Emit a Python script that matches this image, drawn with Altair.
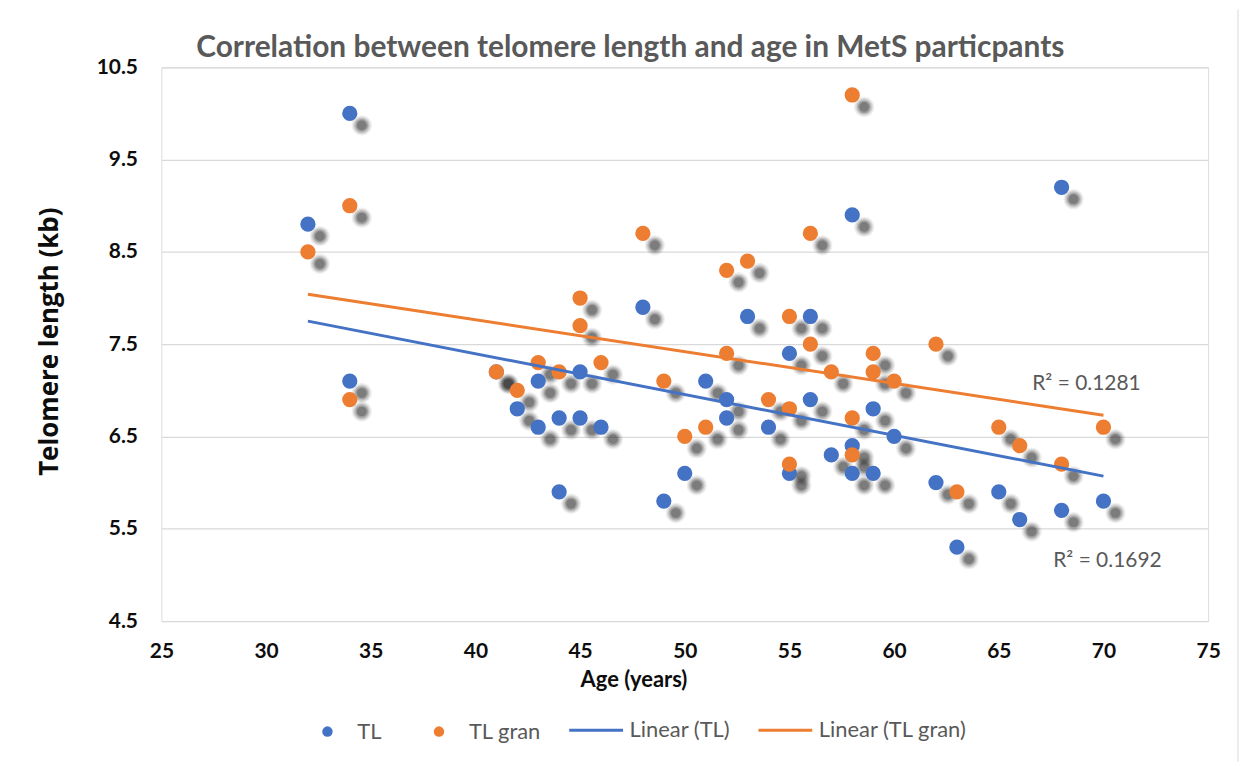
import altair as alt
import pandas as pd

# ---- data ----
tl_age = [32, 34, 34, 41, 42, 43, 43, 44, 44, 45, 45, 46, 48, 49, 50, 51, 52, 52, 53, 54,
          55, 55, 56, 56, 57, 58, 58, 58, 59, 59, 60, 62, 63, 65, 66, 68, 68, 70]
tl_len = [8.8, 10.0, 7.1, 7.2, 6.8, 7.1, 6.6, 6.7, 5.9, 7.2, 6.7, 6.6, 7.9, 5.8, 6.1, 7.1, 6.9, 6.7, 7.8, 6.6,
          7.4, 6.1, 7.8, 6.9, 6.3, 8.9, 6.4, 6.1, 6.8, 6.1, 6.5, 6.0, 5.3, 5.9, 5.6, 9.2, 5.7, 5.8]

gran_age = [32, 34, 34, 41, 42, 43, 44, 45, 45, 46, 48, 49, 50, 51, 52, 52, 53, 54,
            55, 55, 55, 56, 56, 57, 58, 58, 58, 59, 59, 60, 62, 63, 65, 66, 68, 70]
gran_len = [8.5, 9.0, 6.9, 7.2, 7.0, 7.3, 7.2, 8.0, 7.7, 7.3, 8.7, 7.1, 6.5, 6.6, 8.3, 7.4, 8.4, 6.9,
            7.8, 6.8, 6.2, 8.7, 7.5, 7.2, 10.2, 6.7, 6.3, 7.4, 7.2, 7.1, 7.5, 5.9, 6.6, 6.4, 6.2, 6.6]

# linear trend lines (end points)
trend_age = [32, 70]
tl_fit = [7.75, 6.07]
gran_fit = [8.04, 6.73]

point_series = ["TL", "TL gran"]
line_series = ["Linear (TL)", "Linear (TL gran)"]
series_colors = ["#4472C4", "#ED7D31"]

r2_text = ["R\u00b2 = 0.1281", "R\u00b2 = 0.1692"]
r2_age = [66.6, 67.6]
r2_len = [7.0, 5.085]

x_ticks = [25, 30, 35, 40, 45, 50, 55, 60, 65, 70, 75]
y_ticks = [4.5, 5.5, 6.5, 7.5, 8.5, 9.5, 10.5]

title_text = "Correlation between telomere length and age in MetS particpants"

# ---- tables ----
pts = pd.concat([
    pd.DataFrame({"age": tl_age, "len": tl_len, "series": "TL"}),
    pd.DataFrame({"age": gran_age, "len": gran_len, "series": "TL gran"}),
], ignore_index=True)

trend = pd.concat([
    pd.DataFrame({"age": trend_age, "len": tl_fit, "series": "Linear (TL)"}),
    pd.DataFrame({"age": trend_age, "len": gran_fit, "series": "Linear (TL gran)"}),
], ignore_index=True)

r2 = pd.DataFrame({"age": r2_age, "len": r2_len, "label": r2_text})

FONT = "Lato"

x_enc = alt.X("age:Q", scale=alt.Scale(domain=[25, 75], nice=False, zero=False),
              axis=alt.Axis(values=x_ticks, title="Age (years)", grid=False,
                            domain=False, ticks=False, tickSize=0, labelFlush=False,
                            labelFont=FONT, labelFontSize=21, labelFontWeight="bold",
                            labelColor="#0D0D0D", labelPadding=31, labelBaseline="middle",
                            titleFont=FONT, titleFontSize=22, titleFontWeight="bold",
                            titleColor="#0D0D0D", titleX=474, titleY=59,
                            titleBaseline="middle", titleAlign="center"))
y_enc = alt.Y("len:Q", scale=alt.Scale(domain=[4.5, 10.5], nice=False, zero=False),
              axis=alt.Axis(values=y_ticks, format=".1f", title="Telomere length (kb)", grid=True,
                            gridColor="#D9D9D9", gridWidth=1.2, domain=False, ticks=False, tickSize=0,
                            labelFont=FONT, labelFontSize=21, labelFontWeight="bold",
                            labelColor="#0D0D0D", labelPadding=24,
                            titleFont="Open Sans", titleFontSize=26, titleFontWeight="bold",
                            titleColor="#0D0D0D", titleX=-112, titleY=275,
                            titleBaseline="middle", titleAlign="center", titleAngle=-90))

point_legend = alt.Legend(
    title=None, orient="none", legendX=155.75, legendY=656, direction="horizontal",
    labelFont=FONT, labelFontSize=22, labelColor="#595959", labelOffset=19,
    symbolSize=110, symbolType="circle", symbolStrokeWidth=0, columnPadding=46, padding=0)
line_legend = alt.Legend(
    title=None, orient="none", legendX=408, legendY=637, direction="horizontal",
    labelFont=FONT, labelFontSize=22, labelColor="#595959", labelOffset=5,
    symbolSize=2916, symbolType="stroke", symbolStrokeWidth=3, columnPadding=21, padding=0)

base = alt.Chart(pts)

# soft drop shadow built from several translucent grey discs
shadows = [
    base.mark_circle(size=s, opacity=o, color="#2b2b2b", xOffset=12, yOffset=12)
    .encode(x=x_enc, y=y_enc)
    for s, o in [(420, 0.07), (320, 0.1), (235, 0.15), (160, 0.22), (95, 0.3)]
]

points = base.mark_circle(size=235, opacity=1).encode(
    x=x_enc, y=y_enc,
    fill=alt.Fill("series:N", scale=alt.Scale(domain=point_series, range=series_colors),
                  legend=point_legend))

lines = alt.Chart(trend).mark_line(strokeWidth=3).encode(
    x=x_enc, y=y_enc,
    stroke=alt.Stroke("series:N", scale=alt.Scale(domain=line_series, range=series_colors),
                      legend=line_legend))

labels = alt.Chart(r2).mark_text(align="left", baseline="alphabetic", font=FONT,
                                 fontSize=21, color="#595959").encode(
    x=x_enc, y=y_enc, text="label:N")

one = pd.DataFrame({"k": [0]})
title_mark = alt.Chart(one).mark_text(text=title_text, align="left", baseline="alphabetic",
                                      font=FONT, fontSize=30, fontWeight="bold",
                                      color="#595959").encode(
    x=alt.value(35), y=alt.value(-10))
border = alt.Chart(one).mark_rule(color="#D9D9D9", strokeWidth=1).encode(
    x=alt.value(1081), y=alt.value(-58), y2=alt.value(700))

chart = alt.layer(*shadows, points, lines, labels, title_mark, border).resolve_scale(
    fill="independent", stroke="independent"
).properties(
    width=1051, height=556,
    autosize=alt.AutoSizeParams(type="none"),
    padding={"left": 154, "top": 58, "right": 32, "bottom": 140},
).configure_view(stroke=None).configure(background="white")

chart.save("out.html", embed_options={"renderer": "svg", "actions": False})
